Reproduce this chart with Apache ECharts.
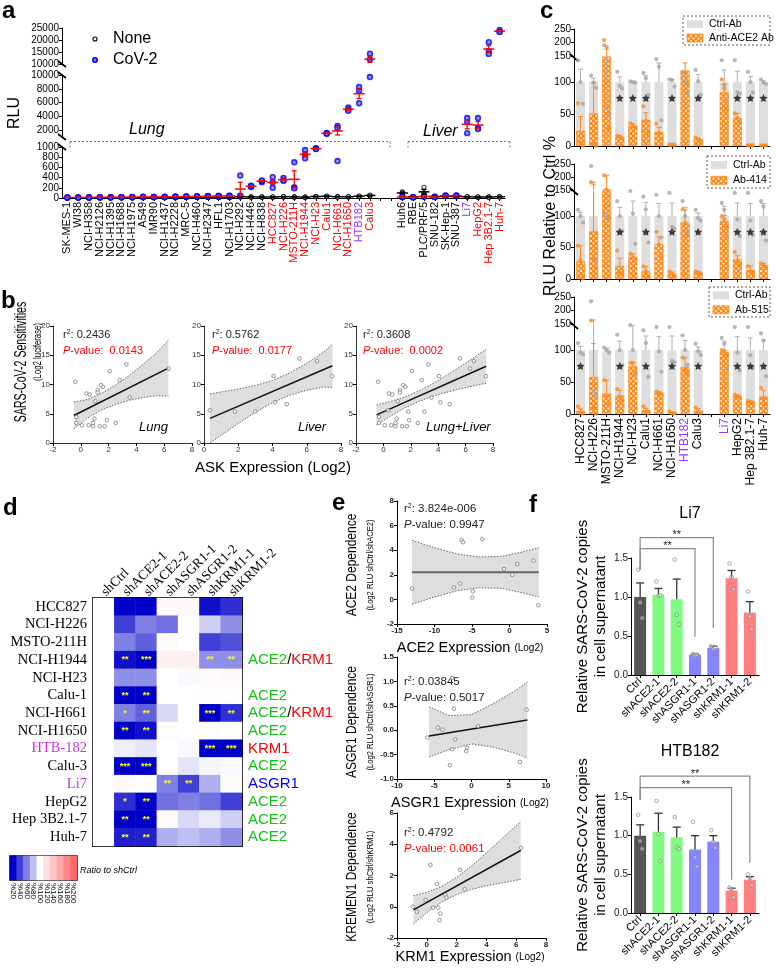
<!DOCTYPE html>
<html><head><meta charset="utf-8">
<script src="https://cdn.jsdelivr.net/npm/echarts@6/dist/echarts.min.js"></script>
<style>html,body{margin:0;padding:0;background:#fff}#c{width:776px;height:971px}</style>
</head><body><div id="c"></div>
<script>
// ================= DATA =================
// Panel a
const aCats = ['SK-MES-1','WI38','NCI-H358','NCI-H2126','NCI-H1395','NCI-H1688','NCI-H1975','A549','IMR90','NCI-H1437','NCI-H2228','MRC-5','NCI-H460','NCI-H2347','HFL1','NCI-H1703','NCI-H292','NCI-H446','NCI-H838','HCC827','NCI-H226','MSTO-211H','NCI-H1944','NCI-H23','Calu1','NCI-H661','NCI-H1650','HTB182','Calu3',' ','  ','Huh6','RBE','PLC/PRF/5','SNU-182','SK-Hep-1','SNU-387','Li7','HepG2','Hep 3B2.1-7','Huh-7'];
const aRed = ['HCC827','NCI-H226','MSTO-211H','NCI-H1944','NCI-H23','Calu1','NCI-H661','NCI-H1650','Calu3','HepG2','Hep 3B2.1-7','Huh-7'];
const aPurple = ['HTB182','Li7'];
const aCov2 = [[8,10,12],[10,12,9],[12,15,10],[14,12,16],[15,12,14],[16,14,18],[18,15,20],[20,18,25],[20,22,18],[22,25,20],[25,22,28],[25,28,30],[30,28,32],[35,40,32],[40,38,42],[40,45,38],
 [440,45,40],[215,240,235],[310,330,345],[410,310,200],[395,345,340],[700,210,190],[940,850,780],[970,975,960],[1600,1520,1480],[2600,2300,725],[5300,5000,4800],[8250,7700,5900],[14300,12000,9700],
 null,null,[20,15,25],[15,12,18],[30,25,35],[20,25,18],[45,50,40],[50,45,40],[3750,3200,1560],[3750,2300,2150],[19100,15400,14200],[24200,23500,23300]];
const aNone = [[3,5,4],[4,6,5],[5,4,6],[6,5,7],[5,7,6],[6,8,5],[7,5,6],[8,6,7],[6,8,7],[7,9,8],[8,7,9],[9,8,10],[10,8,9],[10,12,9],[12,10,11],[12,14,11],
 [25,20,30],[20,25,18],[18,22,20],[20,15,25],[25,20,30],[20,25,22],[15,20,18],[30,25,35],[35,30,40],[25,30,20],[25,20,30],[35,30,40],[50,40,60],
 null,null,[120,80,95],[25,20,30],[210,90,60],[30,25,35],[35,30,40],[30,35,25],[25,20,30],[20,15,25],[20,25,15],[25,30,20]];
const aTicksMid = [2000,4000,6000,8000,10000];

// Panel b
const bLungX = [-0.39,-0.32,-0.32,0.09,0.40,0.64,0.57,0.88,0.88,0.98,1.05,1.21,1.21,1.45,1.60,1.36,1.72,1.88,2.08,2.51,2.80,3.28,3.52,6.32];
const bLungY = [10.46,4.46,3.43,3.03,8.46,8.29,3.03,2.86,3.43,4.17,7.14,9.03,8.63,9.89,9.6,2.86,2.86,3.89,12.29,3.43,10.74,13.43,7.77,12.74];
const bLiverX = [0.35,1.81,2.99,4.06,4.16,4.84,5.58,6.60,7.49];
const bLiverY = [5.6,5.37,5.37,11.43,6.97,6.63,14.46,14.0,11.43];
const b1BandX = [-0.5,0.5,1.5,2.5,3.5,4.5,5.5,6.3];
const b1BandUp = [7.0,7.45,8.5,9.9,11.6,13.5,15.5,17.6];
const b1BandLo = [2.4,4.3,5.66,6.6,7.3,7.8,8.1,8.0];
const b1FitX = [-0.5,6.3], b1FitY = [4.7,12.8];
const b2BandX = [0.35,1,2,3,4,5,6,7,7.5];
const b2BandUp = [8.4,8.72,9.23,9.84,10.7,11.96,13.62,15.58,16.9];
const b2BandLo = [0.0,1.32,3.33,5.24,6.9,8.16,9.02,9.58,9.5];
const b2FitX = [0.35,7.5], b2FitY = [4.2,13.2];
const b3BandX = [-0.5,0.5,1.5,2.5,3.5,4.5,5.5,6.5,7.5];
const b3BandUp = [6.5,7.09,7.83,8.82,10.01,11.4,12.89,14.43,16.02];
const b3BandLo = [3.1,4.59,5.93,7.02,7.91,8.6,9.19,9.73,10.22];
const b3FitX = [-0.5,7.5], b3FitY = [4.8,13.12];
const bStats = [['0.2436','0.0143'],['0.5762','0.0177'],['0.3608','0.0002']];
const bNames = ['Lung','Liver','Lung+Liver'];

// Panel c
const cCats = ['HCC827','NCI-H226','MSTO-211H','NCI-H1944','NCI-H23','Calu1','NCI-H661','NCI-H1650','HTB182','Calu3','','Li7','HepG2','Hep 3B2.1-7','Huh-7'];
const cCtrl = [100,100,100,100,100,100,100,100,100,100,null,100,100,100,100];
const c1Mean = [24,51,140,14,32,41,22,2,118,10,null,84,44,1,1];
const c1Err = [46,100,175,16,35,52,29,3,130,12,null,96,51,2,2];
const c1CtrlErr = [120,106,145,108,101,110,130,104,109,112,null,119,117,109,102];
const c1Dots = [[67,5,0],[148,5,0],[209,183,28],[16,14,12],[36,31,29],[62,39,22],[35,20,11],[2,2,2],[145,115,96],[13,10,8],null,[104,90,58],[51,44,37],[1,1,1],[1,1,1]];
const c1CtrlDots = [[134,100,66],[110,99,91],[190,60,50],[116,94,90],[101,100,99],[114,106,80],[136,124,40],[104,103,93],[116,100,84],[119,101,80],null,[134,96,70],[134,84,82],[116,100,84],[104,99,97]];
const c1Star = [0,0,0,1,1,1,0,1,0,1,0,0,1,1,1];
const c2Mean = [28,76,152,21,35,12,55,8,90,10,null,92,31,14,22];
const c2Err = [53,180,207,33,40,20,67,11,110,12,null,101,37,21,25];
const c2CtrlErr = [106,170,103,114,124,122,120,121,114,105,null,116,121,120,120];
const c2Dots = [[53,30,1],[180,30,18],[206,152,98],[45,10,8],[40,35,30],[20,12,4],[75,55,35],[12,8,4],[111,89,70],[12,10,8],null,[100,95,82],[43,28,22],[20,12,10],[25,22,19]];
const c2CtrlDots = [[110,100,90],[242,32,28],[105,98,97],[124,100,76],[140,104,56],[131,111,58],[134,100,66],[137,83,80],[124,100,76],[110,97,93],null,[121,110,69],[137,95,68],[137,93,70],[124,115,61]];
const c2Star = [0,0,0,1,0,1,0,1,0,1,0,0,1,1,1];
const c3Mean = [5,58,32,29,75,6,33,2,73,5,null,97,28,19,27];
const c3Err = [8,110,53,37,80,9,35,3,88,8,null,100,30,20,37];
const c3CtrlErr = [106,165,103,114,139,122,121,122,115,105,null,114,121,119,116];
const c3Dots = [[12,2,1],[163,10,1],[53,28,15],[39,27,21],[80,80,65],[12,4,2],[35,33,31],[4,1,1],[88,69,62],[10,3,2],null,[100,97,93],[30,28,26],[20,19,18],[41,25,15]];
const c3CtrlDots = [[111,96,93],[234,36,30],[104,100,96],[124,100,76],[139,100,61],[131,111,58],[136,98,66],[136,83,81],[123,100,77],[110,98,92],null,[119,110,71],[136,96,68],[136,92,72],[126,115,59]];
const c3Star = [1,0,0,1,0,1,0,1,0,1,0,0,1,1,1];
const cLegend = ['Anti-ACE2 Ab','Ab-414','Ab-515'];
const cLowTicks = [0,50,100];

// Panel d
const dRows = ['HCC827','NCI-H226','MSTO-211H','NCI-H1944','NCI-H23','Calu-1','NCI-H661','NCI-H1650','HTB-182','Calu-3','Li7','HepG2','Hep 3B2.1-7','Huh-7'];
const dCols = ['shCtrl','shACE2-1','shACE2-2','shASGR1-1','shASGR1-2','shKRM1-1','shKRM1-2'];
const dPurple = ['HTB-182','Li7'];
const dVals = [
 [100,15,15,105,105,25,35],
 [100,40,60,55,100,85,65],
 [100,60,50,103,100,40,45],
 [100,25,20,110,110,65,65],
 [100,65,65,100,98,103,105],
 [100,20,15,100,100,102,102],
 [100,60,50,88,100,15,35],
 [100,20,25,102,100,102,100],
 [100,95,92,100,98,20,20],
 [100,18,15,100,92,97,98],
 [100,104,100,60,40,75,103],
 [100,35,15,55,60,55,40],
 [100,20,18,104,88,93,85],
 [100,30,30,75,80,75,65]];
const dStars = [
 ['','','','','','',''],['','','','','','',''],['','','','','','',''],
 ['','**','***','','','**','**'],['','','','','','',''],
 ['','**','**','','','',''],['','*','**','','','***','**'],['','**','**','','','',''],
 ['','','','','','***','***'],['','***','***','','','',''],['','','','**','**','',''],
 ['','*','**','','','',''],['','**','**','','','',''],['','**','**','','','','']];
const dGene = ['','','','ACE2/KRM1','','ACE2','ACE2/KRM1','ACE2','KRM1','ACE2','ASGR1','ACE2','ACE2','ACE2'];
const dBarTicks = ['%20','%40','%60','%80','%100','%120','%140','%160','%180','%200'];
const dBarVals = [20,40,60,80,100,120,140,160,180,200];

// Panel e
const e1X = [-13.0,-7.4,-6.56,-6.4,-6.2,-4.87,-4.96,-3.62,-0.73,0.37,1.04,3.18,3.84];
const e1Y = [0.89,0.97,1.3,4.84,4.65,0.65,0.16,4.9,2.47,2.0,2.88,3.15,-0.48];
const e1BandX = [-13,-10,-7,-4,-1,2,3.9];
const e1BandUp = [4.8,4.2,3.7,3.45,3.5,3.9,4.2];
const e1BandLo = [-0.4,0.2,0.7,0.95,0.9,0.5,0.2];
const e1FitX = [-13,3.9], e1FitY = [2.2,2.2];
const e2X = [-5.93,-4.5,-3.9,-2.35,-2.2,-2.6,-2.9,-0.7,-0.6,0.87,-2.6,6.5,7.4];
const e2Y = [-0.15,0.05,0.01,0.44,-0.19,-0.39,-0.72,-0.43,-0.36,0.08,1.07,-0.65,0.42];
const e2BandX = [-5.7,-3,0,3,6,7.5];
const e2BandUp = [0.48,0.3,0.32,0.55,0.82,0.99];
const e2BandLo = [-0.55,-0.4,-0.28,-0.35,-0.48,-0.57];
const e2FitX = [-5.7,7.5], e2FitY = [-0.12,0.21];
const e3X = [-0.93,-0.66,-0.08,0.24,0.42,0.68,0.77,0.91,0.86,1.24,1.31,2.25,2.54,6.34];
const e3Y = [0.0,-0.32,0.43,2.68,-0.06,1.46,-0.06,-0.43,-0.86,0.75,0.6,2.36,1.12,3.77];
const e3BandX = [-0.9,0,1,2,3,4,5,6.3];
const e3BandUp = [0.7,0.93,1.3,1.88,2.61,3.44,4.32,5.45];
const e3BandLo = [-1.1,-0.38,0.3,0.78,1.11,1.34,1.52,1.75];
const e3FitX = [-0.9,6.3], e3FitY = [-0.2,3.6];
const eStats = [['3.824e-006','0.9947'],['0.03845','0.5017'],['0.4792','0.0061']];

// Panel f
const fCats = ['Ctrl','shACE2-1','shACE2-2','shASGR1-1','shASGR1-2','shKRM1-1','shKRM1-2'];
const fLi7Mean = [1.0,1.03,0.97,0.26,0.35,1.24,0.8];
const fLi7Err = [1.18,1.11,1.23,0.27,0.37,1.34,0.94];
const fLi7Dots = [[1.35,0.93,0.73],[1.2,1.02,1.02],[1.48,0.77,0.65],[0.27,0.25,0.26],[0.37,0.33,0.35],[1.43,1.26,1.1],[1.07,0.75,0.59]];
const fLi7Sig = [[0,3,1.62,1.35,0.49],[0,4,1.76,1.35,0.6]];
const fHtbMean = [1.0,1.05,0.98,0.82,0.92,0.29,0.43];
const fHtbErr = [1.14,1.29,1.11,1.0,1.0,0.32,0.47];
const fHtbDots = [[1.27,0.93,0.83],[1.45,1.02,0.67],[1.24,0.85,0.83],[1.18,0.72,0.6],[1.07,0.92,0.84],[0.33,0.31,0.2],[0.5,0.45,0.36]];
const fHtbSig = [[0,5,1.62,1.46,0.43],[0,6,1.77,1.46,0.65]];

// ================= HELPERS =================
const FONT = 'Liberation Sans, Arial, Helvetica, sans-serif';
const SERIF = 'Liberation Serif, Times New Roman, serif';
function merge(a,b){ for(const k in b){ const v=b[k]; if(v && typeof v==='object' && !Array.isArray(v) && a[k] && typeof a[k]==='object' && !Array.isArray(a[k])) merge(a[k],v); else a[k]=v; } return a; }
const grid=[], xAxis=[], yAxis=[], series=[], graphic=[];
function addGrid(box, xa, ya){ grid.push(merge({show:false, containLabel:false, outerBoundsMode:'none'}, box)); const gi=grid.length-1; xa.gridIndex=gi; ya.gridIndex=gi; xAxis.push(xa); yAxis.push(ya); return {xi:xAxis.length-1, yi:yAxis.length-1, gi}; }
function valAxis(o){ return merge({type:'value', axisLine:{show:true,onZero:false,lineStyle:{color:'#000',width:1}}, axisTick:{show:true,length:3,lineStyle:{color:'#000',width:1}}, splitLine:{show:false}, axisLabel:{color:'#000',fontSize:10,fontFamily:FONT,margin:3,formatter:v=>String(v)}}, o||{}); }
function catAxis(data,o){ return merge({type:'category', data:data, axisLine:{show:true,onZero:false,lineStyle:{color:'#000',width:1}}, axisTick:{show:true,alignWithLabel:true,interval:0,length:3,lineStyle:{color:'#000'}}, axisLabel:{show:false,interval:0,color:'#000',fontFamily:FONT}, splitLine:{show:false}}, o||{}); }
function on(ax){ return {xAxisIndex:ax.xi, yAxisIndex:ax.yi}; }
function txt(x,y,text,st,o){ graphic.push(merge({type:'text', x:x, y:y, silent:true, style:merge({text:text, fill:'#000', fontSize:12, fontFamily:FONT, align:'left', verticalAlign:'middle'}, st||{})}, o||{})); }
function line(x1,y1,x2,y2,st){ graphic.push({type:'line', silent:true, shape:{x1,y1,x2,y2}, style:merge({stroke:'#000',lineWidth:1}, st||{})}); }
function stats(r){ const n=r.length, m=r.reduce((s,v)=>s+v,0)/n; const sd=Math.sqrt(r.reduce((s,v)=>s+(v-m)*(v-m),0)/(n-1)); return [m, sd/Math.sqrt(n)]; }
function errRender(color, cap, lw){ return function(p, api){ const x=api.value(0), a=api.value(1), b=api.value(2); const pa=api.coord([x,a]), pb=api.coord([x,b]); return {type:'group', children:[
  {type:'line', shape:{x1:pa[0],y1:pa[1],x2:pb[0],y2:pb[1]}, style:{stroke:color,lineWidth:lw}},
  {type:'line', shape:{x1:pb[0]-cap,y1:pb[1],x2:pb[0]+cap,y2:pb[1]}, style:{stroke:color,lineWidth:lw}}]}; }; }
function crossRender(color, halfW){ return function(p, api){ const x=api.value(0), m=api.value(1), lo=api.value(2), hi=api.value(3); const pm=api.coord([x,m]), pl=api.coord([x,lo]), ph=api.coord([x,hi]); const c=halfW*0.45; return {type:'group', children:[
  {type:'line', shape:{x1:pm[0]-halfW,y1:pm[1],x2:pm[0]+halfW,y2:pm[1]}, style:{stroke:color,lineWidth:1.5}},
  {type:'line', shape:{x1:pl[0],y1:pl[1],x2:ph[0],y2:ph[1]}, style:{stroke:color,lineWidth:1.3}},
  {type:'line', shape:{x1:ph[0]-c,y1:ph[1],x2:ph[0]+c,y2:ph[1]}, style:{stroke:color,lineWidth:1.3}},
  {type:'line', shape:{x1:pl[0]-c,y1:pl[1],x2:pl[0]+c,y2:pl[1]}, style:{stroke:color,lineWidth:1.3}}]}; }; }
function zip(xs,ys){ return xs.map((x,i)=>[x,ys[i]]); }
function addBand(ax, bx, up, lo, fx, fy, fitColor, fitW){
  const poly = zip(bx,up).concat(zip(bx,lo).reverse());
  series.push(merge({type:'custom', data:[poly[0]], clip:true, silent:true, z:1, renderItem:function(p,api){ return {type:'polygon', shape:{points:poly.map(pt=>api.coord(pt))}, style:{fill:'#dedede'}}; }}, on(ax)));
  series.push(merge({type:'line', data:zip(bx,lo), symbol:'none', lineStyle:{color:'#666',width:1,type:[1.5,1.5]}, silent:true, z:2}, on(ax)));
  series.push(merge({type:'line', data:zip(bx,up), symbol:'none', lineStyle:{color:'#666',width:1,type:[1.5,1.5]}, silent:true, z:2}, on(ax)));
  series.push(merge({type:'line', data:zip(fx,fy), symbol:'none', lineStyle:{color:fitColor||'#111',width:fitW||1.5}, silent:true, z:3}, on(ax)));
}
function addPts(ax, xs, ys){ series.push(merge({type:'scatter', data:zip(xs,ys), symbol:'circle', symbolSize:3.6, itemStyle:{color:'#fff', borderColor:'#6e6e6e', borderWidth:0.9}, z:4, silent:true}, on(ax))); }

// ================= PANEL A =================
const aCatData = aCats.map(c=>({value:c, textStyle:{color: aRed.includes(c)?'#ff0000':(aPurple.includes(c)?'#9933ff':'#000')}}));
const aBot = addGrid({left:62, top:147, width:443, height:51}, catAxis(aCatData,{axisLabel:{show:true,rotate:90,fontSize:11,margin:4}}), valAxis({min:0,max:1000,interval:200}));
const aMid = addGrid({left:62, top:75, width:443, height:62}, catAxis(aCatData,{show:false}), valAxis({min:1000,max:10000,axisLabel:{customValues:aTicksMid},axisTick:{customValues:aTicksMid}}));
const aTop = addGrid({left:62, top:28, width:443, height:36}, catAxis(aCatData,{show:false}), valAxis({min:10000,max:25000,interval:5000}));
[[aBot,0,999.999],[aMid,1000,10000],[aTop,10000.001,25000]].forEach(([ax,lo,hi])=>{
  const ptsN=[], ptsC=[], crN=[], crC=[];
  aCats.forEach((c,i)=>{
    if(aNone[i]){ aNone[i].forEach(v=>{ if(v>=lo&&v<=hi) ptsN.push([i,v]); }); const s=stats(aNone[i]); if(s[0]>=lo&&s[0]<=hi) crN.push([i,s[0],s[0]-s[1],s[0]+s[1]]); }
    if(aCov2[i]){ aCov2[i].forEach(v=>{ if(v>=lo&&v<=hi) ptsC.push([i,v]); }); const s=stats(aCov2[i]); if(s[0]>=lo&&s[0]<=hi) crC.push([i,s[0],s[0]-s[1],s[0]+s[1]]); }
  });
  series.push(merge({type:'scatter', data:ptsN, symbolSize:4, itemStyle:{color:'#fff',borderColor:'#000',borderWidth:1.1}, z:3, silent:true}, on(ax)));
  series.push(merge({type:'scatter', data:ptsC, symbolSize:4.8, itemStyle:{color:'#8080ff',borderColor:'#0000ff',borderWidth:1.6}, z:4, silent:true}, on(ax)));
  series.push(merge({type:'custom', data:crN, renderItem:crossRender('#000',5.5), clip:true, z:5, silent:true}, on(ax)));
  series.push(merge({type:'custom', data:crC, renderItem:crossRender('#ff0000',5.5), clip:true, z:6, silent:true}, on(ax)));
});
txt(2,11,'a',{fontSize:24,fontWeight:'bold'});
txt(15,113,'RLU',{fontSize:16,align:'center'},{rotation:Math.PI/2});
graphic.push({type:'circle', silent:true, shape:{cx:95,cy:39,r:2}, style:{fill:'#fff',stroke:'#000',lineWidth:1.1}});
graphic.push({type:'circle', silent:true, shape:{cx:95,cy:60,r:2.2}, style:{fill:'#8080ff',stroke:'#0000ff',lineWidth:1.6}});
txt(113,39,'None',{fontSize:16});
txt(113,60,'CoV-2',{fontSize:16});
txt(129,130,'Lung',{fontSize:16,fontStyle:'italic'});
txt(423,132,'Liver',{fontSize:16,fontStyle:'italic'});
const dash={stroke:'#777',lineWidth:1,lineDash:[2,2]};
line(70,141.5,390,141.5,dash); line(70,141.5,70,149,dash); line(390,141.5,390,149,dash);
line(408,141.5,510,141.5,dash); line(408,141.5,408,148,dash); line(510,141.5,510,148,dash);
[[64,75],[137,147]].forEach(([y1,y2])=>{ line(62,y1,62,y2,{stroke:'#fff',lineWidth:3}); line(58,y1-3,66,y1+3,{lineWidth:1.6}); line(58,y2-3,66,y2+3,{lineWidth:1.6}); });

// ================= PANEL B =================
function bAxes(xmin){ const lab={fontSize:8,color:'#333'}, al={lineStyle:{color:'#333'}}; return [valAxis({min:xmin,max:8,interval:2,axisLabel:lab,axisLine:al}), valAxis({min:0,max:20,interval:5,axisLabel:lab,axisLine:al})]; }
let ba;
ba=bAxes(-2); const b1=addGrid({left:53, top:326, width:139, height:117}, ba[0], ba[1]);
ba=bAxes(0); const b2=addGrid({left:204, top:326, width:137, height:117}, ba[0], ba[1]);
ba=bAxes(-2); const b3=addGrid({left:356, top:326, width:137, height:117}, ba[0], ba[1]);
addBand(b1, b1BandX, b1BandUp, b1BandLo, b1FitX, b1FitY); addPts(b1, bLungX, bLungY);
addBand(b2, b2BandX, b2BandUp, b2BandLo, b2FitX, b2FitY); addPts(b2, bLiverX, bLiverY);
addBand(b3, b3BandX, b3BandUp, b3BandLo, b3FitX, b3FitY); addPts(b3, bLungX.concat(bLiverX), bLungY.concat(bLiverY));
const bLeft=[63,212,363], bNameX=[139,298,426];
bStats.forEach((s,i)=>{
  txt(bLeft[i],335,'r{s|2}: '+s[0],{fontSize:11,fill:'#222',rich:{s:{fontSize:7,verticalAlign:'top',padding:[0,0,6,0]}}});
  txt(bLeft[i],351,'{i|P}-value:  '+s[1],{fontSize:11,fill:'#ff0000',rich:{i:{fontStyle:'italic',fontSize:11,fill:'#ff0000'}}});
  txt(bNameX[i],427,bNames[i],{fontSize:13,fontStyle:'italic'});
});
txt(1,301,'b',{fontSize:24,fontWeight:'bold'});
txt(22,362,'SARS-CoV-2 Sensitivities',{fontSize:16,align:'center'},{rotation:Math.PI/2,scaleX:0.66});
txt(38,352,'(Log2 luciferase)',{fontSize:10,align:'center'},{rotation:Math.PI/2,scaleX:0.78});
txt(273,468,'ASK Expression (Log2)',{fontSize:15,align:'center'});

// ================= PANEL C =================
const cCatData = cCats.map(c=>({value:c, textStyle:{color: (c==='HTB182'||c==='Li7')?'#9933ff':'#000'}}));
const cPat = (function(){ const cv=document.createElement('canvas'); cv.width=5; cv.height=5; const g=cv.getContext('2d'); g.fillStyle='#ff8a1a'; g.fillRect(0,0,5,5); g.fillStyle='#ffe2bf'; g.fillRect(0,0,2,2); g.fillRect(2.5,2.5,2,2); return cv; })();
const cSubs = [
  {mean:c1Mean, err:c1Err, cerr:c1CtrlErr, dots:c1Dots, cdots:c1CtrlDots, star:c1Star, lowTop:56.5, lowH:89.5, upTop:29, upH:27},
  {mean:c2Mean, err:c2Err, cerr:c2CtrlErr, dots:c2Dots, cdots:c2CtrlDots, star:c2Star, lowTop:191, lowH:88, upTop:164, upH:26},
  {mean:c3Mean, err:c3Err, cerr:c3CtrlErr, dots:c3Dots, cdots:c3CtrlDots, star:c3Star, lowTop:324.5, lowH:89.5, upTop:297, upH:27}];
const starPath='path://M0,-10 L2.9,-4 L9.5,-3.1 L4.8,1.5 L5.9,8.1 L0,5 L-5.9,8.1 L-4.8,1.5 L-9.5,-3.1 L-2.9,-4 Z';
cSubs.forEach((s,k)=>{
  const last = k===2;
  const low = addGrid({left:574, top:s.lowTop, width:196, height:s.lowH}, catAxis(cCatData,{axisLabel:{show:last,rotate:90,fontSize:12,margin:4}}), valAxis({min:0,max:140,axisLabel:{customValues:cLowTicks},axisTick:{customValues:cLowTicks}}));
  const up = addGrid({left:574, top:s.upTop, width:196, height:s.upH}, catAxis(cCatData,{show:false}), valAxis({min:150,max:250,interval:50}));
  [[low,0,140],[up,150,250]].forEach(([ax,lo,hi])=>{
    series.push(merge({type:'bar', data:cCtrl.map(v=>(v!=null&&v>lo)?v:'-'), barWidth:9, barGap:'-100%', itemStyle:{color:'#dedede'}, silent:true, z:1}, on(ax)));
    series.push(merge({type:'bar', data:s.mean.map(v=>(v!=null&&v>lo)?v:'-'), barWidth:9, barGap:'-100%', itemStyle:{color:{image:cPat,repeat:'repeat'}, borderColor:'#ff8a1a', borderWidth:0.6}, silent:true, z:2}, on(ax)));
    series.push(merge({type:'custom', data:cCtrl.map((v,i)=>v==null?null:[i,v,s.cerr[i]]).filter(d=>d), renderItem:errRender('#b0b0b0',2.5,1), clip:true, silent:true, z:3}, on(ax)));
    series.push(merge({type:'custom', data:s.mean.map((v,i)=>v==null?null:[i,v,s.err[i]]).filter(d=>d), renderItem:errRender('#ff8a1a',2.5,1), clip:true, silent:true, z:3}, on(ax)));
    const off=[[-2.5,0],[0,0],[2.5,0]];
    const cd=[], od=[];
    s.cdots.forEach((r,i)=>{ if(r) r.forEach((v,j)=>{ if(v>=lo&&v<=hi) cd.push({value:[i,v], symbolOffset:off[j]}); }); });
    s.dots.forEach((r,i)=>{ if(r) r.forEach((v,j)=>{ if(v>=lo&&v<=hi) od.push({value:[i,v], symbolOffset:off[j]}); }); });
    series.push(merge({type:'scatter', data:cd, symbolSize:4.2, itemStyle:{color:'#a5a5a5'}, silent:true, z:4}, on(ax)));
    series.push(merge({type:'scatter', data:od, symbolSize:4.2, itemStyle:{color:'#ff8a1a'}, silent:true, z:5}, on(ax)));
  });
  series.push(merge({type:'scatter', data:s.star.map((v,i)=>v?[i,75]:null).filter(d=>d), symbol:starPath, symbolSize:8, itemStyle:{color:'#111'}, silent:true, z:6}, on(low)));
  const yb = s.upTop + s.upH;
  line(574,yb,574,s.lowTop,{stroke:'#fff',lineWidth:3});
  line(570,yb-2,578,yb+5,{lineWidth:1.8});
});
[[683,16,87,29],[707,156,63,32],[709,287,61,30]].forEach((b,k)=>{
  graphic.push({type:'rect', silent:true, shape:{x:b[0],y:b[1],width:b[2],height:b[3]}, style:{fill:'#fff',stroke:'#333',lineWidth:0.8,lineDash:[2,2]}, z:10});
  const sx=b[0]+4, y1=b[1]+b[3]*0.28, y2=b[1]+b[3]*0.76;
  graphic.push({type:'rect', silent:true, shape:{x:sx,y:y1-4,width:16,height:8}, style:{fill:'#dedede'}, z:11});
  graphic.push({type:'rect', silent:true, shape:{x:sx,y:y2-4,width:16,height:8}, style:{fill:{image:cPat,repeat:'repeat'},stroke:'#ff8a1a',lineWidth:0.8}, z:11});
  graphic.push({type:'text', silent:true, x:sx+22, y:y1, z:11, style:{text:'Ctrl-Ab', fontSize:10.5, fontFamily:FONT, fill:'#000', verticalAlign:'middle'}});
  graphic.push({type:'text', silent:true, x:sx+22, y:y2, z:11, style:{text:cLegend[k], fontSize:10.5, fontFamily:FONT, fill:'#000', verticalAlign:'middle'}});
});
txt(540,11,'c',{fontSize:24,fontWeight:'bold'});
txt(551,216,'RLU Relative to Ctrl %',{fontSize:16,align:'center'},{rotation:Math.PI/2});

// ================= PANEL D =================
function mix(a,b,t){ const A=[1,3,5].map(i=>parseInt(a.slice(i,i+2),16)), B=[1,3,5].map(i=>parseInt(b.slice(i,i+2),16)); return 'rgb('+A.map((v,i)=>Math.round(v+(B[i]-v)*t)).join(',')+')'; }
const heatColors=[]; for(let v=20; v<=200; v+=5){ heatColors.push(v<=100? mix('#0000c8','#ffffff',(v-20)/80) : mix('#ffffff','#ff6a6a',(v-100)/100)); }
const dRowData = dRows.map(r=>({value:r, textStyle:{color: dPurple.includes(r)?'#cc33dd':'#000'}}));
const dHm = addGrid({left:93, top:598, width:149, height:248, show:true, borderColor:'#000', borderWidth:2, backgroundColor:'transparent'},
  catAxis(dCols,{position:'top', axisLine:{show:false}, axisTick:{show:false}, axisLabel:{show:true,rotate:-45,align:'left',verticalAlign:'middle',fontFamily:SERIF,fontSize:13.5,margin:4}}),
  catAxis(dRowData,{inverse:true, axisLine:{show:false}, axisTick:{show:false}, axisLabel:{show:true,fontFamily:SERIF,fontSize:14.5,margin:6}}));
yAxis.push(catAxis(dGene,{gridIndex:dHm.gi, position:'right', inverse:true, axisLine:{show:false}, axisTick:{show:false},
  axisLabel:{show:true, margin:6, formatter:function(v){ if(!v) return ''; return v.split('/').map(p=>'{'+(p==='ACE2'?'g':p==='KRM1'?'r':'b')+'|'+p+'}').join('{s|/}'); },
   rich:{g:{color:'#16c016',fontSize:15,fontFamily:FONT}, r:{color:'#ff0000',fontSize:15,fontFamily:FONT}, b:{color:'#0000ff',fontSize:15,fontFamily:FONT}, s:{color:'#000',fontSize:15,fontFamily:FONT}}}}));
const hmData=[]; dVals.forEach((row,r)=>row.forEach((v,c)=>hmData.push([c,r,v,dStars[r][c]])));
series.push(merge({type:'heatmap', data:hmData, label:{show:true, formatter:p=>p.data[3], color:'#ffff00', fontSize:9, fontWeight:'bold', fontFamily:FONT}, silent:true, z:1}, on(dHm)));
const hmIdx = series.length-1;
const dCb = addGrid({left:10, top:856, width:67, height:24, show:true, borderColor:'#000', borderWidth:1.5, backgroundColor:'transparent'},
  catAxis(dBarTicks,{axisLine:{show:false}, axisTick:{show:false}, axisLabel:{show:true, rotate:-90, fontSize:8, margin:3, fontFamily:FONT}}),
  catAxis(['r'],{show:false}));
series.push(merge({type:'heatmap', data:dBarVals.map((v,i)=>[i,0,v]), silent:true}, on(dCb)));
const cbIdx = series.length-1;
txt(80,870,'Ratio to shCtrl',{fontSize:9,fontStyle:'italic'});
txt(3,508,'d',{fontSize:24,fontWeight:'bold'});

// ================= PANEL E =================
function eAxes(xmin,xmax,xint,ymin,ymax,yint,fmt){
  const lab={fontSize:8,fontWeight:'bold',color:'#222'};
  return [valAxis({min:xmin,max:xmax,interval:xint,axisLabel:lab}), valAxis({min:ymin,max:ymax,interval:yint,axisLabel:merge({formatter:fmt||(v=>String(v))},lab)})];
}
let ea;
ea=eAxes(-15,5,5,-2,8,2); const e1 = addGrid({left:397, top:501, width:150, height:123}, ea[0], ea[1]);
ea=eAxes(-10,10,5,-1,1.5,0.5,v=>v.toFixed(1)); const e2 = addGrid({left:397, top:657, width:149, height:122}, ea[0], ea[1]);
ea=eAxes(-2,8,2,-2,6,2); const e3 = addGrid({left:397, top:813, width:149, height:125}, ea[0], ea[1]);
addBand(e1, e1BandX, e1BandUp, e1BandLo, e1FitX, e1FitY, '#666', 2); addPts(e1, e1X, e1Y);
addBand(e2, e2BandX, e2BandUp, e2BandLo, e2FitX, e2FitY); addPts(e2, e2X, e2Y);
addBand(e3, e3BandX, e3BandUp, e3BandLo, e3FitX, e3FitY); addPts(e3, e3X, e3Y);
const eTop=[509,682,833];
eStats.forEach((s,i)=>{
  txt(404,eTop[i],'r{s|2}: '+s[0],{fontSize:11.5,fill:'#222',rich:{s:{fontSize:7,verticalAlign:'top',padding:[0,0,6,0]}}});
  const red = i===2;
  txt(404,eTop[i]+16,'{i|P}-value: '+s[1],{fontSize:11.5,fill:red?'#ff0000':'#222',rich:{i:{fontStyle:'italic',fontSize:11.5,fill:red?'#ff0000':'#222'}}});
});
const eT = [['ACE2 Dependence','(Log2 RLU shCtrl/shACE2)',565,'ACE2 Expression',648],['ASGR1 Dependence','(Log2 RLU shCtrl/shASGR1)',722,'ASGR1 Expression',803],['KREMEN1 Dependence','(Log2 RLU shCtrl/shKRM1)',877,'KRM1 Expression',957]];
eT.forEach(t=>{
  txt(352,t[2],t[0],{fontSize:15,align:'center'},{rotation:Math.PI/2,scaleX:0.8});
  txt(370,t[2],t[1],{fontSize:9.5,align:'center'},{rotation:Math.PI/2,scaleX:0.8});
  txt(470,t[4],t[3]+' {s|(Log2)}',{fontSize:14.5,align:'center',rich:{s:{fontSize:10,fontFamily:FONT}}});
});
txt(332,503,'e',{fontSize:24,fontWeight:'bold'});

// ================= PANEL F =================
const fColors = ['#555555','#80fa80','#80fa80','#8585ff','#8585ff','#ff8080','#ff8080'];
function fPanel(top, h, mean, err, dots, sig, title, ty){
  const ax = addGrid({left:631, top:top, width:128, height:h}, catAxis(fCats,{axisLabel:{show:true,rotate:45,fontSize:11,margin:5}}), valAxis({min:0,max:1.5,interval:0.5,axisLabel:{formatter:v=>v.toFixed(1),fontSize:10,color:'#222'}}));
  series.push(merge({type:'bar', data:mean.map((v,i)=>({value:v, itemStyle:{color:fColors[i]}})), barWidth:12, silent:true, z:1}, on(ax)));
  series.push(merge({type:'custom', data:mean.map((v,i)=>[i,v,err[i]]), renderItem:errRender('#333',4,1.3), silent:true, z:3}, on(ax)));
  const off=[[-2,0],[0,0],[2,0]], pd=[];
  dots.forEach((r,i)=>r.forEach((v,j)=>pd.push({value:[i,v], symbolOffset:off[j]})));
  series.push(merge({type:'scatter', data:pd, symbolSize:3.6, itemStyle:{color:'rgba(255,255,255,0.5)', borderColor:'#8a8a8a', borderWidth:0.9}, silent:true, z:4}, on(ax)));
  series.push(merge({type:'custom', data:sig, clip:false, silent:true, z:5, renderItem:function(p,api){
    const a=api.value(0), b=api.value(1), lev=api.value(2), dA=api.value(3), dB=api.value(4);
    const p1=api.coord([a,lev]), p2=api.coord([b,lev]), q1=api.coord([a,dA]), q2=api.coord([b,dB]);
    return {type:'group', children:[
      {type:'polyline', shape:{points:[[q1[0],q1[1]],[p1[0],p1[1]],[p2[0],p2[1]],[q2[0],q2[1]]]}, style:{stroke:'#8a8a8a',lineWidth:1.2,fill:null}},
      {type:'text', style:{text:'**', x:(p1[0]+p2[0])/2, y:p1[1]+3, align:'center', verticalAlign:'bottom', fontSize:11, fontFamily:FONT, fill:'#222'}}]};
  }}, on(ax)));
  txt(690,ty,title,{fontSize:16,align:'center'});
  txt(592,top+h/2,'Relative SARS-CoV-2 copies\nin cell supernatant',{fontSize:15,align:'center',lineHeight:18},{rotation:Math.PI/2});
}
fPanel(558,117,fLi7Mean,fLi7Err,fLi7Dots,fLi7Sig,'Li7',514);
fPanel(797,116,fHtbMean,fHtbErr,fHtbDots,fHtbSig,'HTB182',752);
txt(529,505,'f',{fontSize:24,fontWeight:'bold'});

// ================= CHART =================
const chart = echarts.init(document.getElementById('c'), null, {renderer:'canvas', width:776, height:971});
chart.setOption({
  animation:false, backgroundColor:'#fff', textStyle:{fontFamily:FONT},
  grid, xAxis, yAxis, series, graphic,
  visualMap:[{type:'continuous', min:20, max:200, dimension:2, show:false, seriesIndex:[hmIdx, cbIdx], inRange:{color:heatColors}}]
});
</script></body></html>
